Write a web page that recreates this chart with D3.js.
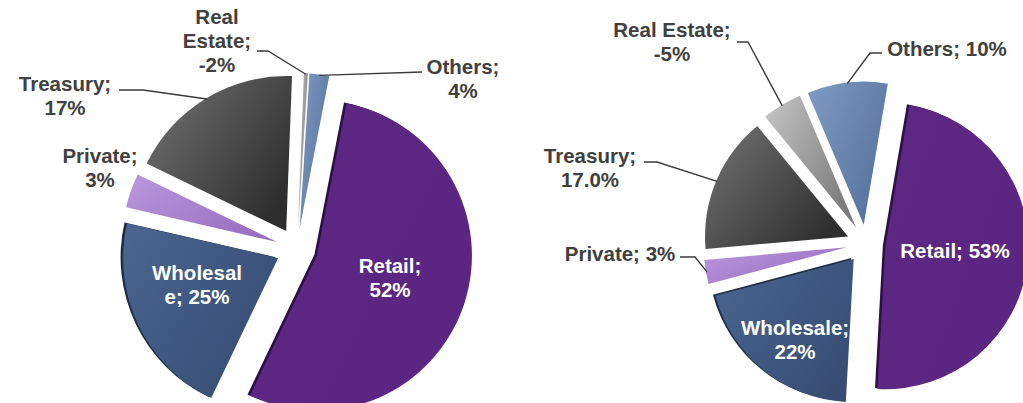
<!DOCTYPE html>
<html><head><meta charset="utf-8">
<script src="https://cdn.jsdelivr.net/npm/d3@7"></script>
<style>body{margin:0;background:#fff}svg{display:block}</style>
</head><body>
<svg id="c" width="1023" height="403"></svg>
<script>
// ---- data ----
const categories = ["Retail", "Wholesale", "Private", "Treasury", "Real Estate", "Others"];
// printed values (%)
const leftValues  = [52, 25, 3, 17, -2, 4];
const rightValues = [53, 22, 3, 17.0, -5, 10];
// slice sizes as drawn
const leftShares  = [52.8, 21, 3.5, 18, 0.4, 2.0];
const rightShares = [53, 22, 3, 17, 5, 10];
// label lines as printed
const leftLabels  = [["Retail;", "52%"], ["Wholesal", "e; 25%"], ["Private;", "3%"], ["Treasury;", "17%"], ["Real", "Estate;", "-2%"], ["Others;", "4%"]];
const rightLabels = [["Retail; 53%"], ["Wholesale;", "22%"], ["Private; 3%"], ["Treasury;", "17.0%"], ["Real Estate;", "-5%"], ["Others; 10%"]];

// ---- styles ----
const fills = {
  "Retail": ["#5d2784", "#5b2682"],
  "Wholesale": ["#4b6690", "#374d74"],
  "Private": ["#bb98de", "#996ebf"],
  "Treasury": ["#747474", "#2e2e2e"],
  "Real Estate": ["#c6c6c6", "#7a7a7a"],
  "Others": ["#809bc3", "#56739d"]
};
const bevels = { "Retail": "#2e0f47", "Wholesale": "#1f2d47" };

const svg = d3.select("#c");
const defs = svg.append("defs");
categories.forEach((c, i) => {
  const g = defs.append("linearGradient").attr("id", "g" + i)
    .attr("x1", 0).attr("y1", 0).attr("x2", 1).attr("y2", 0.7);
  g.append("stop").attr("offset", "0%").attr("stop-color", fills[c][0]);
  g.append("stop").attr("offset", "100%").attr("stop-color", fills[c][1]);
});

const FONT = "'Liberation Sans', Arial, sans-serif";
const rad = d => d * Math.PI / 180;

// layout: label anchor (center x, first baseline), colour, leader start/elbow
const charts = [
  {
    cx: 297, cy: 249, r: 155, explode: 21, start: 11,
    shares: leftShares, values: leftValues, labels: leftLabels,
    layout: [
      { x: 390, y: 273, c: "#fff" },
      { x: 197, y: 280, c: "#fff" },
      { x: 100, y: 163, c: "#404040" },
      { x: 65, y: 91, c: "#404040", lead: [[119, 90], [143, 90]] },
      { x: 217, y: 24, c: "#404040", lead: [[257, 51], [268, 51]] },
      { x: 463, y: 74, c: "#404040", lead: [[422, 72]] }
    ]
  },
  {
    cx: 866, cy: 244, r: 143, explode: 19.5, start: 9.7,
    shares: rightShares, values: rightValues, labels: rightLabels,
    layout: [
      { x: 955, y: 258, c: "#fff" },
      { x: 795, y: 335, c: "#fff" },
      { x: 620, y: 261, c: "#404040", lead: [[680, 257], [695, 257]] },
      { x: 590, y: 163, c: "#404040", lead: [[644, 162], [657, 162]] },
      { x: 672, y: 37, c: "#404040", lead: [[737, 42], [748, 42]] },
      { x: 947, y: 56, c: "#404040", lead: [[882, 53], [870, 53]] }
    ]
  }
];

charts.forEach(ch => {
  const data = categories.map((c, i) => ({ cat: c, i, share: ch.shares[i], value: ch.values[i] }));
  const s0 = rad(ch.start);
  const pie = d3.pie().sort(null).value(d => d.share).startAngle(s0).endAngle(s0 + 2 * Math.PI);
  const arcs = pie(data);
  const arc = d3.arc().innerRadius(0).outerRadius(ch.r);
  const g = svg.append("g").attr("transform", `translate(${ch.cx},${ch.cy})`);

  arcs.forEach(a => {
    const mid = (a.startAngle + a.endAngle) / 2;
    const dx = ch.explode * Math.sin(mid), dy = -ch.explode * Math.cos(mid);
    const sg = g.append("g").attr("transform", `translate(${dx},${dy})`);
    const b = bevels[a.data.cat];
    if (b) sg.append("path").attr("d", arc(a)).attr("fill", b).attr("transform", "translate(-2.5,-1)");
    sg.append("path").attr("d", arc(a)).attr("fill", `url(#g${a.data.i})`);
  });

  // leaders + labels
  arcs.forEach(a => {
    const L = ch.layout[a.data.i];
    const mid = (a.startAngle + a.endAngle) / 2;
    if (L.lead) {
      const rr = ch.explode + ch.r - 1;
      const end = [ch.cx + rr * Math.sin(mid), ch.cy - rr * Math.cos(mid)];
      const pts = L.lead.concat([end]);
      svg.append("path").attr("d", d3.line()(pts))
        .attr("fill", "none").attr("stroke", "#3a3a3a").attr("stroke-width", 1.4);
    }
    const t = svg.append("text").attr("text-anchor", "middle")
      .attr("font-family", FONT).attr("font-weight", "bold").attr("font-size", "20.5px")
      .attr("fill", L.c);
    ch.labels[a.data.i].forEach((line, k) => {
      t.append("tspan").attr("x", L.x).attr("y", L.y + k * 24).text(line);
    });
  });
});
</script>
</body></html>
